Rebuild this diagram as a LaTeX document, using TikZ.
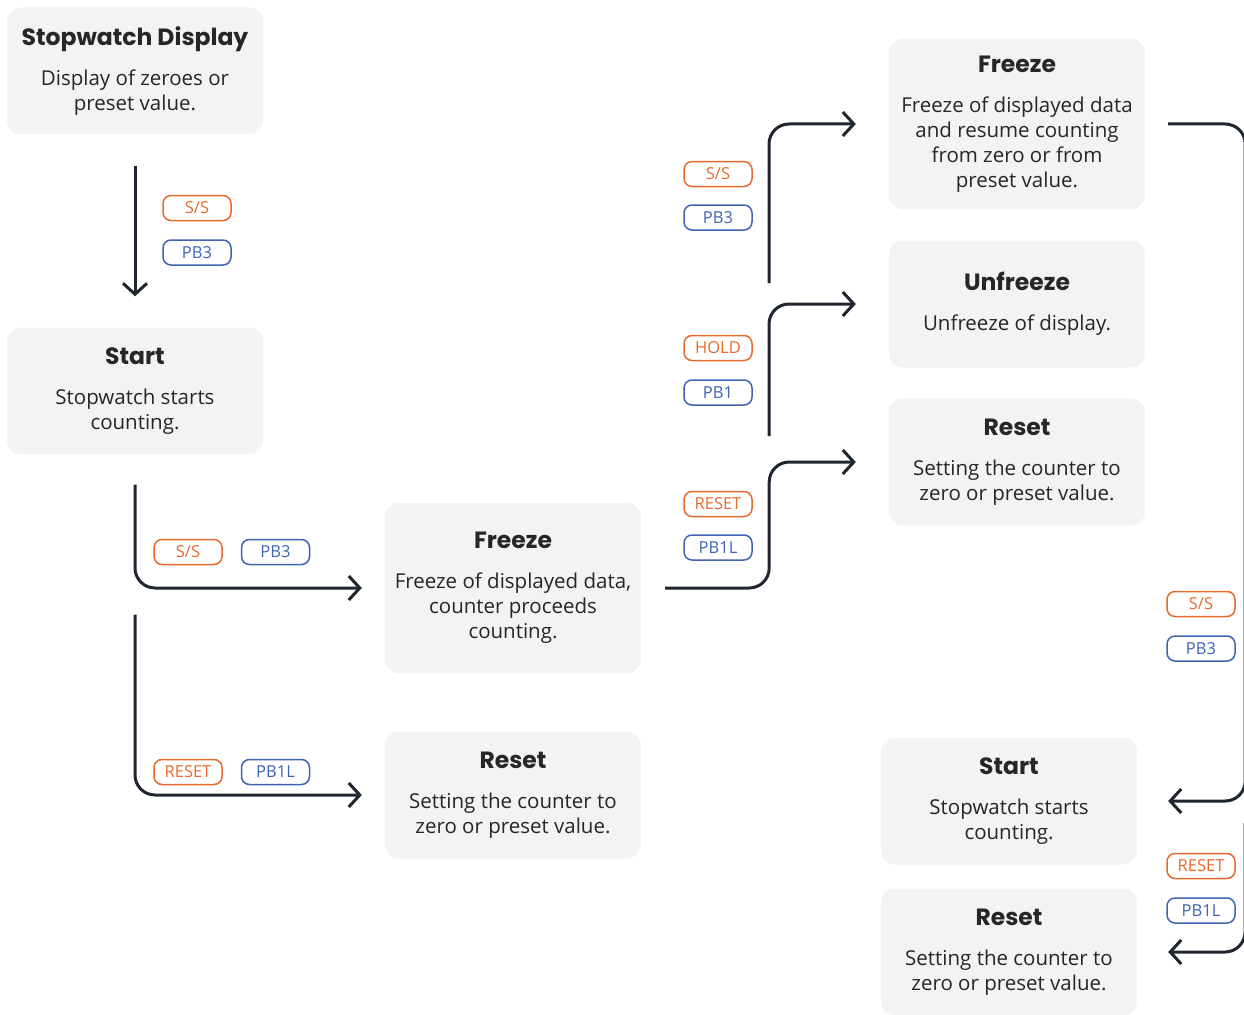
\documentclass[tikz,border=0pt]{standalone}
\usepackage{fontspec}
\newfontfamily\headfont{Poppins}
\newfontfamily\bodyfont{Open Sans}
\usetikzlibrary{arrows.meta,positioning}
\definecolor{boxgrey}{HTML}{F2F3F5}
\definecolor{ink}{HTML}{1F2630}
\definecolor{tagorange}{HTML}{E8692B}
\definecolor{tagblue}{HTML}{3E64B3}
\newcommand{\hd}[1]{{\headfont\bfseries\fontsize{23.5}{28}\selectfont #1}\\[15pt]}

\begin{document}
\begin{tikzpicture}[x=1pt,y=-1pt,
  box/.style={fill=boxgrey,rounded corners=14pt,minimum width=256pt,minimum height=127pt,
    align=center,text=black!85,font=\bodyfont\fontsize{20.5}{25}\selectfont},
  tall/.style={box,minimum height=170pt},
  tag/.style={draw,rounded corners=8pt,line width=1.5pt,minimum width=68pt,minimum height=25pt,
    inner sep=0pt,font=\bodyfont\fontsize{16.5}{18}\selectfont},
  ss/.style={tag,draw=tagorange,text=tagorange},
  pb/.style={tag,draw=tagblue,text=tagblue},
  flow/.style={draw=ink,line width=3pt,rounded corners=20pt,-{Straight Barb[length=11pt,width=24pt]}}]
\useasboundingbox (0,0) rectangle (1244,1014);

% state boxes
\node[box] (disp) at (135,71) {\hd{Stopwatch Display}Display of zeroes or\\preset value.};
\node[box] (start) at (135,391) {\hd{Start}Stopwatch starts\\counting.};
\node[tall] (mfrz) at (513,588) {\hd{Freeze}Freeze of displayed data,\\counter proceeds\\counting.};
\node[box] (mrst) at (513,795) {\hd{Reset}Setting the counter to\\zero or preset value.};
\node[tall] (rfrz) at (1017,124) {\hd{Freeze}Freeze of displayed data\\and resume counting\\from zero or from\\preset value.};
\node[box] (unfrz) at (1017,304) {\hd{Unfreeze}Unfreeze of display.};
\node[box] (rrst) at (1017,462) {\hd{Reset}Setting the counter to\\zero or preset value.};
\node[box] (rstart) at (1009,801) {\hd{Start}Stopwatch starts\\counting.};
\node[box] (rrst2) at (1009,952) {\hd{Reset}Setting the counter to\\zero or preset value.};

% transitions
\draw[flow,shorten <=31pt,shorten >=31pt] (disp) -- (start);
\draw[flow,shorten <=30pt,shorten >=23pt] (start.south) |- (mfrz.west);
\draw[flow,shorten <=160pt,shorten >=23pt] (start.south) |- (mrst.west);
\draw[flow,shorten <=24pt,shorten >=33pt] (mfrz.east) -- ++(128,0) |- (rrst.west);
\coordinate (holdup) at (769,436);
\draw[flow,shorten >=33pt] (holdup) |- (unfrz.west);
\coordinate (frzup) at (769,283);
\draw[flow,shorten >=33pt] (frzup) |- (rfrz.west);
\draw[flow,shorten <=23pt,shorten >=31pt] (rfrz.east) -- ++(100,0) |- (rstart.east);
\coordinate (rstfork) at (1245,823);
\draw[flow,shorten >=31pt] (rstfork) |- (rrst2.east);

% button tags
\node[ss] (ss1) at (197,208) {S/S};
\node[pb,below=18pt of ss1] (pb1) {PB3};
\node[ss] (ss2) at (188,552) {S/S};
\node[pb,right=18pt of ss2] (pb2) {PB3};
\node[ss] (rs1) at (188,772) {RESET};
\node[pb,right=18pt of rs1] (pbl1) {PB1L};
\node[ss] (rs2) at (718,504) {RESET};
\node[pb,below=17pt of rs2] (pbl2) {PB1L};
\node[ss] (hold) at (718,348) {HOLD};
\node[pb,below=18pt of hold] (pbh) {PB1};
\node[ss] (ss3) at (718,174) {S/S};
\node[pb,below=17pt of ss3] (pb3) {PB3};
\node[ss] (ss4) at (1201,604) {S/S};
\node[pb,below=18pt of ss4] (pb4) {PB3};
\node[ss] (rs3) at (1201,866) {RESET};
\node[pb,below=18pt of rs3] (pbl3) {PB1L};
\end{tikzpicture}
\end{document}
